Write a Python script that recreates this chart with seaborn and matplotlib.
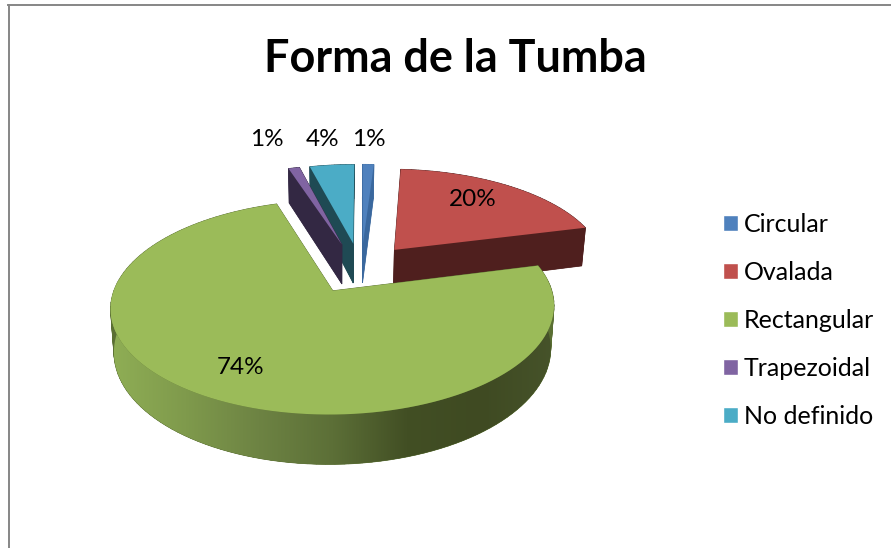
import numpy as np
import matplotlib
matplotlib.use('Agg')
import matplotlib.pyplot as plt
import seaborn as sns
from matplotlib.colors import LinearSegmentedColormap
from matplotlib.patches import Patch, PathPatch
from matplotlib.path import Path
from matplotlib.transforms import Affine2D

# Data
categories = ['Circular', 'Ovalada', 'Rectangular', 'Trapezoidal', 'No definido']
values = [1, 20, 74, 1, 4]
title = 'Forma de la Tumba'

# Styles
top_colors = ['#4f81bd', '#c0504d', '#9bbb59', '#8064a2', '#4bacc6']
wall_colors = ['#3a689e', '#4f1f1e', '#5a6f33', '#332843', '#1f4a54']
explode = [0.3, 0.3, 0.21, 0.3, 0.3]
nudge = [6, 0, 0, 4, 6]
label_pos = [(369, 140), (473, 200), (241, 368), (267, 140), (323, 140)]
draw_order = [4, 3, 0, 1, 2]

sns.set_theme(style='white')
plt.rcParams['font.family'] = ['Lato', 'DejaVu Sans']

fig = plt.figure(figsize=(8.91, 5.48), dpi=100, facecolor='white')
ax = fig.add_axes([8.5 / 891, 0, 1 - 8.5 / 891, 1 - 4.5 / 548])

wedges, _, autotexts = ax.pie(values, explode=explode, colors=top_colors, startangle=90,
                              counterclock=False, radius=1, autopct='%1.0f%%')


# Perspective of the tilted pie, unit circle to pixels
def project(pts, drop=0.0, shift=0):
    w = 1 + 0.15 * pts[:, 1]
    x = 355 + 213 * pts[:, 0] / w
    if drop:
        x = 333 + (x - 333) * 0.985
    return np.column_stack([x + shift, 272 - 99 * pts[:, 1] / w + drop / w])


for z, i in enumerate(draw_order):
    wedge = wedges[i]
    flat = wedge.get_path().to_polygons(Affine2D().scale(500), closed_only=False)[0] / 500
    top = project(flat, shift=nudge[i])
    bottom = project(flat, drop=41, shift=nudge[i])
    ax.fill(bottom[:, 0], bottom[:, 1], color=wall_colors[i], lw=0, zorder=3 + z)
    for k in range(len(flat) - 1):
        quad = np.vstack([top[k], top[k + 1], bottom[k + 1], bottom[k]])
        ax.fill(quad[:, 0], quad[:, 1], color=wall_colors[i], lw=0.5, zorder=3 + z)
    if categories[i] == 'Rectangular':
        # shaded rim of the big slice
        dist = np.hypot(*(flat - np.array(wedge.center)).T)
        rim = flat[dist > 0.999]
        ribbon = np.vstack([project(rim), project(rim, drop=41)[::-1]])
        shade = LinearSegmentedColormap.from_list(
            'rim', ['#8fae55', '#7f9a4c', '#6d8343', '#5c6f37', '#424f24', '#3f4a22', '#46532a'])
        im = ax.imshow(np.linspace(0, 1, 256).reshape(1, -1), cmap=shade, aspect='auto',
                       extent=[111, 555, 470, 280], zorder=3 + z)
        im.set_clip_path(PathPatch(Path(ribbon), transform=ax.transData))
    ax.fill(top[:, 0], top[:, 1], color=top_colors[i], lw=0, zorder=3.5 + z)
    wedge.set_visible(False)

for t, pos in zip(autotexts, label_pos):
    t.set_position(pos)
    t.set_fontsize(17.5)
    t.set_color('black')
    t.set_ha('center')
    t.set_va('center')
    t.set_zorder(20)

ax.set_aspect('auto')
ax.set_xlim(8.5, 891)
ax.set_ylim(548, 4.5)
ax.set_frame_on(True)
for side in ['right', 'bottom']:
    ax.spines[side].set_visible(False)
for side in ['left', 'top']:
    ax.spines[side].set_visible(True)
    ax.spines[side].set_color('#868686')
    ax.spines[side].set_linewidth(1.4)

ax.text(455.5, 59, title, fontsize=32.4, fontweight='bold', ha='center', va='center', color='black')

handles = [Patch(facecolor=c, label=n) for c, n in zip(top_colors, categories)]
ax.legend(handles=handles, loc='center left', bbox_to_anchor=(714 / 882.5, (548 - 320.5) / 543.5),
          frameon=False, fontsize=18, handlelength=0.6, handleheight=0.6, handletextpad=0.26,
          labelspacing=1.0, labelcolor='black', borderpad=0, borderaxespad=0)

fig.savefig('out.png', dpi=100, facecolor='white')
